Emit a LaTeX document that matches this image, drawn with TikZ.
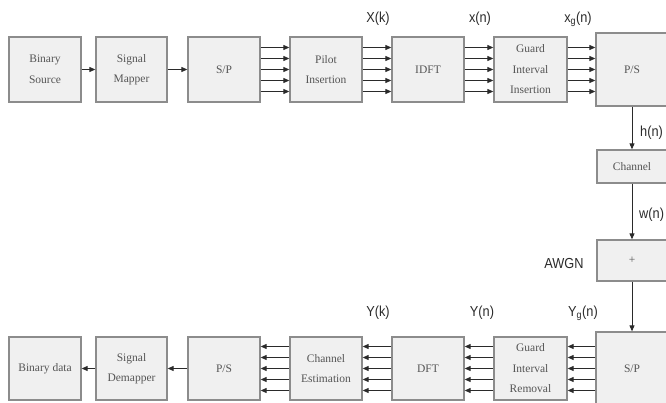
\documentclass[tikz,border=0pt]{standalone}
\usepackage{fontspec}
\setmainfont{Liberation Serif}
\newfontfamily\labfont[FakeStretch=0.88]{Liberation Sans}
\usetikzlibrary{arrows.meta,calc}
\definecolor{boxfill}{HTML}{F0F0F0}
\definecolor{boxline}{HTML}{8C8C8C}
\definecolor{boxtext}{HTML}{555555}
\definecolor{arr}{HTML}{2A2A2A}
\tikzset{
  blk/.style={draw=boxline, fill=boxfill, line width=1.3pt, minimum width=72pt, minimum height=65pt,
    inner sep=1pt, align=center, font=\fontsize{11.5}{20.5}\selectfont, text=boxtext},
  conn/.style={draw=arr, line width=0.9pt, -{Triangle[length=6pt,width=5pt]}},
  sig/.style={font=\labfont\fontsize{14.5}{16}\selectfont, text=arr, inner sep=0pt}
}
\begin{document}
\begin{tikzpicture}[x=1pt,y=-1pt]
\useasboundingbox (0,0) rectangle (666,403);
\clip (0,0) rectangle (666,403);
% top row
\node[blk] (bs) at (45,69.5) {Binary\\Source};
\node[blk, minimum width=71pt] (sm) at (131.5,69.5) {Signal\\Mapper};
\node[blk] (sp1) at (224,69.5) {S/P};
\node[blk] (pi) at (326,69.5) {Pilot\\Insertion};
\node[blk] (idft) at (428,69.5) {IDFT};
\node[blk, minimum width=73pt] (gii) at (530.5,69.5) {Guard\\Interval\\Insertion};
\node[blk, minimum height=73pt] (ps1) at (632,69.5) {P/S};
% right column
\node[blk, minimum width=70pt, minimum height=33pt] (ch) at (632,166.5) {Channel};
\node[blk, minimum width=70pt, minimum height=41pt] (plus) at (632,260.5) {+};
% bottom row
\node[blk, minimum height=73pt] (sp2) at (632,368.5) {S/P};
\node[blk, minimum width=73pt, minimum height=63pt] (gir) at (530.5,368.5) {Guard\\Interval\\Removal};
\node[blk, minimum height=63pt] (dft) at (428,368.5) {DFT};
\node[blk, minimum height=63pt] (ce) at (326,368.5) {Channel\\Estimation};
\node[blk, minimum height=63pt] (ps2) at (224,368.5) {P/S};
\node[blk, minimum width=71pt, minimum height=63pt] (sd) at (131.5,368.5) {Signal\\Demapper};
\node[blk, minimum height=63pt] (bd) at (45,368.5) {Binary data};
% single connectors
\draw[conn] (bs) -- (sm);
\draw[conn] (sm) -- (sp1);
\draw[conn] (ps2) -- (sd);
\draw[conn] (sd) -- (bd);
% parallel connectors
\foreach \d in {-22,-11,0,11,22}{
  \draw[conn] ($(sp1.east)+(0,\d)$) -- ($(pi.west)+(0,\d)$);
  \draw[conn] ($(pi.east)+(0,\d)$) -- ($(idft.west)+(0,\d)$);
  \draw[conn] ($(idft.east)+(0,\d)$) -- ($(gii.west)+(0,\d)$);
  \draw[conn] ($(gii.east)+(0,\d)$) -- ($(ps1.west)+(0,\d)$);
  \draw[conn] ($(sp2.west)+(0,\d)$) -- ($(gir.east)+(0,\d)$);
  \draw[conn] ($(gir.west)+(0,\d)$) -- ($(dft.east)+(0,\d)$);
  \draw[conn] ($(dft.west)+(0,\d)$) -- ($(ce.east)+(0,\d)$);
  \draw[conn] ($(ce.west)+(0,\d)$) -- ($(ps2.east)+(0,\d)$);
}
% vertical connectors
\draw[conn] (ps1) -- (ch);
\draw[conn] (ch) -- (plus);
\draw[conn] (plus) -- (sp2);
% labels
\node[sig] (lXk) at (378,19) {X(k)};
\node[sig] (lxn) at (480,19) {x(n)};
\node[sig] (lxg) at (578,19) {x\textsubscript{g}(n)};
\node[sig, anchor=west] (lh) at (640,133) {h(n)};
\node[sig, anchor=west] (lw) at (639,215) {w(n)};
\node[sig] (lawgn) at (564,264) {AWGN};
\node[sig] (lYk) at (378,313) {Y(k)};
\node[sig] (lYn) at (482,313) {Y(n)};
\node[sig] (lYg) at (583,313) {Y\textsubscript{g}(n)};
\end{tikzpicture}
\end{document}
